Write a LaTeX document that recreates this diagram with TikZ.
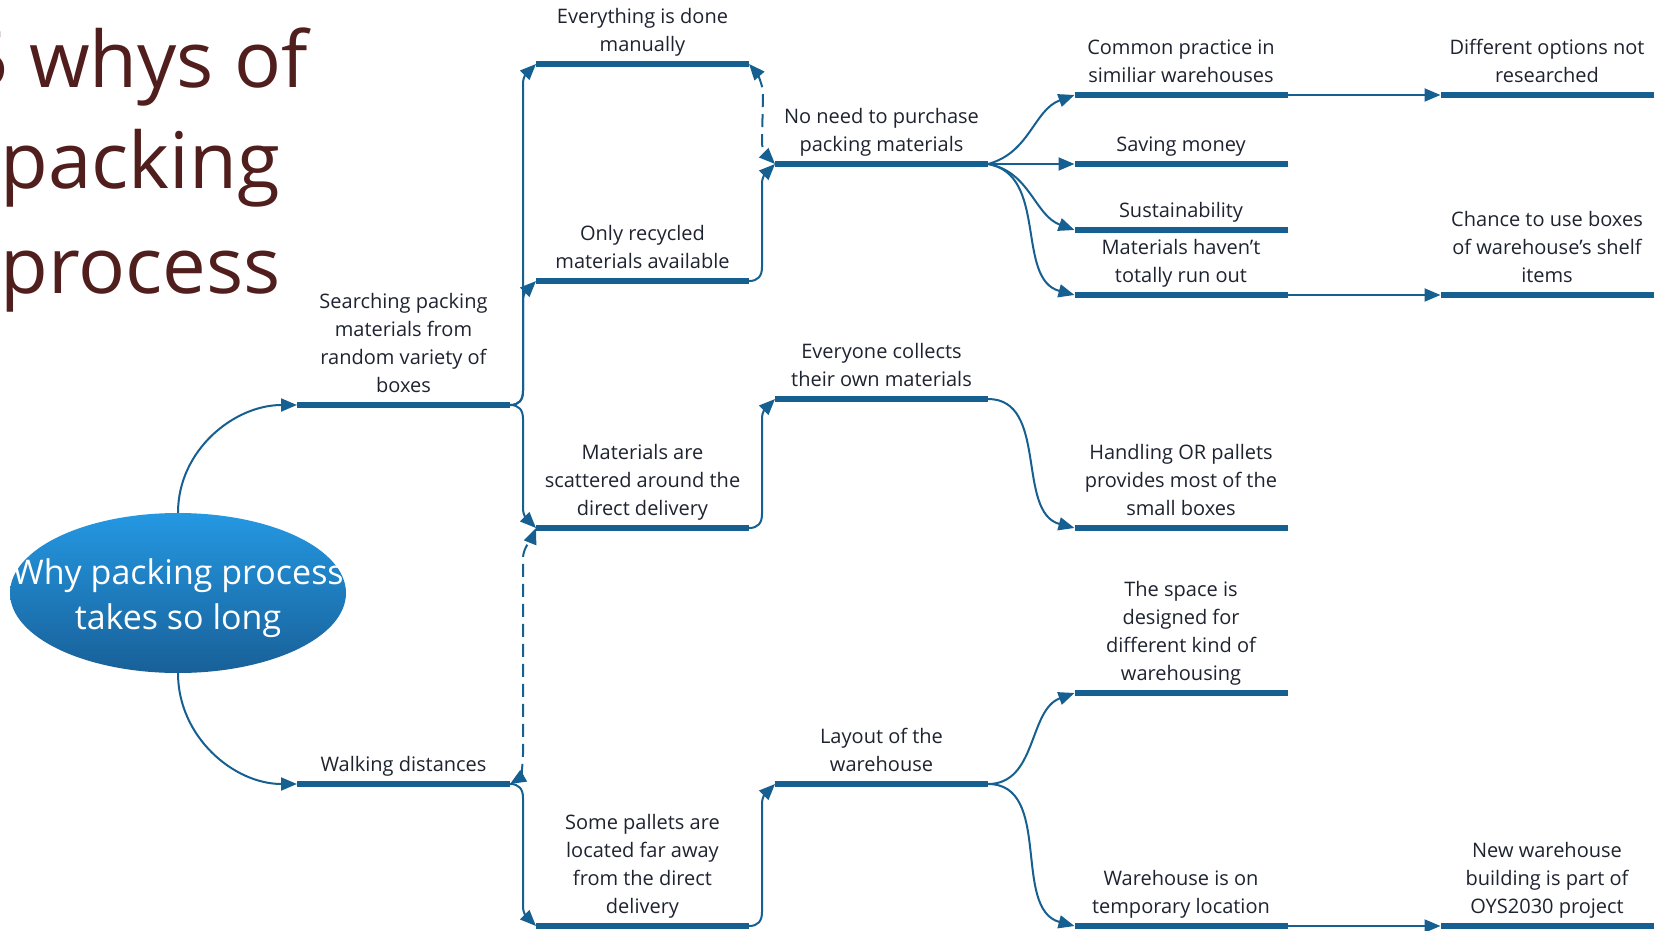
\documentclass[tikz,border=0pt]{standalone}
\usepackage{fontspec}
\setmainfont{Open Sans}
\usetikzlibrary{arrows.meta,shapes.geometric,calc}
\definecolor{mblue}{RGB}{22,96,145}
\definecolor{txt}{RGB}{30,35,48}
\definecolor{ttl}{RGB}{80,30,28}
\definecolor{etop}{RGB}{36,152,226}
\definecolor{ebot}{RGB}{24,96,152}
\newcommand\mklbl[4]{%
  \node[lbl] (#1) at (#2,#3) {#4\rule[-12pt]{0pt}{12pt}};
  \coordinate (#1-l) at ($(#1.south)+(-106.5,0)$);
  \coordinate (#1-r) at ($(#1.south)+(106.5,0)$);
  \draw[bar] (#1-l) -- (#1-r);}
\newcommand\brkup[2]{%
  \draw[conn] (#1-r) .. controls +(9,0) and +(0,-9) .. ($(#1-r)+(13,14)$) -- ($(#2-l)+(-13,-20)$) .. controls +(0,9) and +(-8,-8) .. (#2-l);}
\newcommand\brkdown[2]{%
  \draw[conn] (#1-r) .. controls +(9,0) and +(0,9) .. ($(#1-r)+(13,-14)$) -- ($(#2-l)+(-13,20)$) .. controls +(0,-9) and +(-8,8) .. (#2-l);}
\begin{document}
\begin{tikzpicture}[x=1pt,y=1pt,
  lbl/.style={font=\fontsize{20}{28}\selectfont, text=txt, align=center, anchor=south, inner sep=0pt},
  bar/.style={draw=mblue, line width=6pt},
  tip/.style={},
  conn/.style={draw=mblue, line width=2pt, -{Triangle[length=16pt,width=13pt]}},
  dashpat/.style={dash pattern=on 13pt off 7pt},
  ttlstyle/.style={font=\fontsize{78}{100}\selectfont, text=ttl, anchor=base west, inner sep=0pt},
  rootstyle/.style={ellipse, minimum width=336pt, minimum height=160pt, inner sep=0pt, top color=etop, bottom color=ebot, draw=none},
  rootlbl/.style={text=white, font=\fontsize{34}{45}\selectfont, align=center, inner sep=0pt}]
\useasboundingbox (0,0) rectangle (1665,-931);
\clip (0,0) rectangle (1665,-931);
% title
\node[ttlstyle] (t1) at (-36,-88) {5 whys of};
\node[ttlstyle] (t2) at (0,-188) {packing};
\node[ttlstyle] (t3) at (0,-293) {process};
% root
\node[rootstyle, label={[rootlbl, yshift=-5pt]center:{Why packing process\\takes so long}}] (root) at (178,-593) {};
% labels
\mklbl{search}{403.5}{-405}{Searching packing\\materials from\\random variety of\\boxes}
\mklbl{walk}{403.5}{-784}{Walking distances}
\mklbl{every}{642.5}{-64}{Everything is done\\manually}
\mklbl{recyc}{642.5}{-281}{Only recycled\\materials available}
\mklbl{scat}{642.5}{-528}{Materials are\\scattered around the\\direct delivery}
\mklbl{pallets}{642.5}{-926}{Some pallets are\\located far away\\from the direct\\delivery}
\mklbl{noneed}{881.5}{-164}{No need to purchase\\packing materials}
\mklbl{everyone}{881.5}{-399}{Everyone collects\\their own materials}
\mklbl{layout}{881.5}{-784}{Layout of the\\warehouse}
\mklbl{common}{1181}{-95}{Common practice in\\similiar warehouses}
\mklbl{saving}{1181}{-164}{Saving money}
\mklbl{sustain}{1181}{-230}{Sustainability}
\mklbl{haven}{1181}{-295}{Materials haven’t\\totally run out}
\mklbl{handling}{1181}{-528}{Handling OR pallets\\provides most of the\\small boxes}
\mklbl{space}{1181}{-693}{The space is\\designed for\\different kind of\\warehousing}
\mklbl{temp}{1181}{-926}{Warehouse is on\\temporary location}
\mklbl{diff}{1547}{-95}{Different options not\\researched}
\mklbl{chance}{1547}{-295}{Chance to use boxes\\of warehouse’s shelf\\items}
\mklbl{newwh}{1547}{-926}{New warehouse\\building is part of\\OYS2030 project}
% root connectors
\draw[conn] (root.north) to[out=90,in=180] (search-l);
\draw[conn] (root.south) to[out=-90,in=180] (walk-l);
% left brackets
\brkup{search}{every}
\brkup{search}{recyc}
\brkdown{search}{scat}
\brkdown{walk}{pallets}
\draw[conn, dashpat, {Triangle[length=16pt,width=13pt]}-{Triangle[length=16pt,width=13pt]}] (walk-r) .. controls +(10,6) and +(0,-12) .. ($(walk-r)+(13,30)$) -- ($(scat-l)+(-13,-30)$) .. controls +(0,10) and +(-4,-10) .. (scat-l);
% middle brackets
\draw[conn, dashpat, {Triangle[length=16pt,width=13pt]}-{Triangle[length=16pt,width=13pt]}] (every-r) .. controls +(7,-8) and +(0,10) .. ($(every-r)+(14,-30)$) -- ($(noneed-l)+(-13,22)$) .. controls +(0,-9) and +(-8,8) .. (noneed-l);
\brkup{recyc}{noneed}
\brkup{scat}{everyone}
\brkup{pallets}{layout}
% fans
\draw[conn] (noneed-r) to[out=15,in=200] (common-l);
\draw[conn] (noneed-r) -- (saving-l);
\draw[conn] (noneed-r) to[out=-10,in=160] (sustain-l);
\draw[conn] (noneed-r) to[out=-10,in=165] (haven-l);
\draw[conn] (everyone-r) to[out=0,in=165] (handling-l);
\draw[conn] (layout-r) to[out=0,in=200] (space-l);
\draw[conn] (layout-r) to[out=0,in=165] (temp-l);
% straight links
\draw[conn] (common-r) -- (diff-l);
\draw[conn] (haven-r) -- (chance-l);
\draw[conn] (temp-r) -- (newwh-l);
\end{tikzpicture}
\end{document}
